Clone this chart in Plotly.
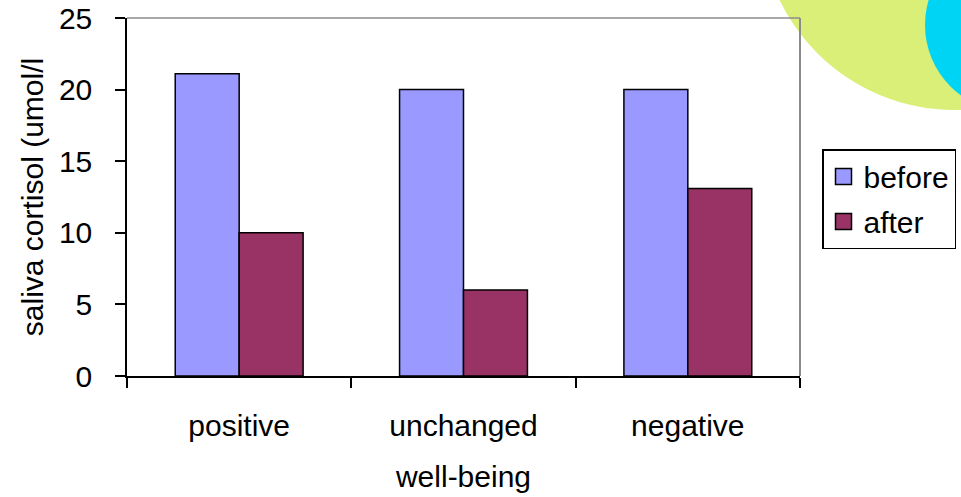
import plotly.graph_objects as go

# Saliva cortisol before/after, grouped by change in well-being
categories = ["positive", "unchanged", "negative"]
before = [21.1, 20.0, 20.0]
after = [10.0, 6.0, 13.1]
y_ticks = [0, 5, 10, 15, 20, 25]

W, H = 961, 497
ML, MR, MT, MB = 127, 161, 18, 121
PW, PH = W - ML - MR, H - MT - MB


def px_x(px):
    return (px - ML) / PW


def px_y(py):
    return (H - MB - py) / PH


FONT = "Liberation Sans, Arial, sans-serif"
FS = 30
BEFORE_C = "#9999FF"
AFTER_C = "#993366"
txt = dict(family=FONT, size=FS, color="black")

fig = go.Figure()
fig.add_trace(go.Bar(x=categories, y=before, name="before", marker_color=BEFORE_C,
                     marker_line=dict(color="black", width=1.5), showlegend=False))
fig.add_trace(go.Bar(x=categories, y=after, name="after", marker_color=AFTER_C,
                     marker_line=dict(color="black", width=1.5), showlegend=False))

# legend entries with larger square swatches
for name, col, grp in [("before", BEFORE_C, "a"), ("after", AFTER_C, "b")]:
    fig.add_trace(go.Scatter(x=[None], y=[None], mode="markers", name=name,
                             legendgroup=grp,
                             marker=dict(symbol="square", size=16, color=col,
                                         line=dict(color="black", width=1.5))))

shapes = [
    # decorative circles in the corner
    dict(type="circle", xref="paper", yref="paper", layer="below",
         x0=px_x(760), x1=px_x(1150), y0=px_y(110), y1=px_y(-280),
         fillcolor="#d9ef77", line=dict(width=0)),
    dict(type="circle", xref="paper", yref="paper", layer="below",
         x0=px_x(925), x1=px_x(1099), y0=px_y(112), y1=px_y(-62),
         fillcolor="#00d4f5", line=dict(width=0)),
    # grey frame on top and right
    dict(type="line", xref="paper", yref="paper", x0=0, x1=1, y0=1, y1=1,
         line=dict(color="#8c8c8c", width=1.5)),
    dict(type="line", xref="paper", yref="paper", x0=1, x1=1, y0=0, y1=1,
         line=dict(color="#8c8c8c", width=2)),
]

fig.update_layout(
    width=W, height=H,
    margin=dict(l=ML, r=MR, t=MT, b=MB, autoexpand=False),
    paper_bgcolor="white", plot_bgcolor="white",
    barmode="group", bargap=0.43, bargroupgap=0,
    font=txt,
    shapes=shapes,
    legend=dict(x=px_x(822), y=px_y(149), xanchor="left", yanchor="top",
                bordercolor="black", borderwidth=1.5, bgcolor="white",
                font=txt, tracegroupgap=3, traceorder="grouped",
                itemsizing="trace", entrywidth=160, entrywidthmode="pixels"),
    xaxis=dict(type="category", range=[-0.5, 2.5], showgrid=False,
               showline=True, linecolor="black", linewidth=1.5,
               ticks="outside", tickson="boundaries", ticklen=10,
               tickcolor="black", tickwidth=1.5, ticklabelstandoff=22,
               tickfont=txt,
               title=dict(text="well-being", standoff=25, font=txt),
               automargin=False),
    yaxis=dict(range=[0, 25], tickvals=y_ticks, showgrid=False, zeroline=False,
               showline=True, linecolor="black", linewidth=1.5,
               ticks="outside", ticklen=10, tickcolor="black", tickwidth=1.5,
               ticklabelstandoff=17, tickfont=txt,
               title=dict(text="saliva cortisol (umol/l", standoff=6, font=txt),
               automargin=False),
)

fig.write_html("out.html")
